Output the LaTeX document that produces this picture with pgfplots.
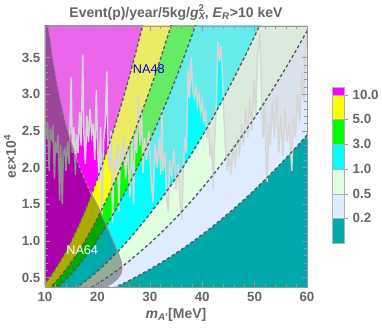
\documentclass[border=0pt]{standalone}
\usepackage{fontspec}
\setmainfont{Liberation Sans}
\usepackage{pgfplots}
\usepackage{pgfplotstable}
\pgfplotsset{compat=1.18}

\definecolor{cMag}{RGB}{255,0,255}
\definecolor{cYel}{RGB}{255,255,0}
\definecolor{cGrn}{RGB}{0,255,0}
\definecolor{cCya}{RGB}{0,255,255}
\definecolor{cLgr}{RGB}{224,255,224}
\definecolor{cLbl}{RGB}{221,236,255}
\definecolor{cTea}{RGB}{0,170,170}
\definecolor{frm}{gray}{0.6}
\definecolor{lab}{gray}{0.4}

% background (everything below the 0.2 contour)
\pgfplotstableread{
x y
8 0.2
62 0.2
62 4.5
8 4.5
}\cbg

% contours: curve points, then corners outside the axis
\pgfplotstableread{
x y
9 0.335
10 0.420
11 0.514
12 0.620
13 0.735
14 0.862
15 1.001
16 1.147
17 1.306
18 1.476
19 1.656
20 1.849
21 2.052
22 2.266
23 2.488
24 2.721
25 2.964
26 3.218
27 3.483
28 3.760
29 4.034
30 4.317
8 4.5
8 0.2
}\cten

\pgfplotstableread{
x y
9 0.237
10 0.297
11 0.363
12 0.438
13 0.520
14 0.610
15 0.708
16 0.811
17 0.923
18 1.044
19 1.171
20 1.307
21 1.451
22 1.602
23 1.759
24 1.924
25 2.096
26 2.275
27 2.463
28 2.659
30 3.053
32 3.473
34 3.921
36 4.395
8 4.5
8 0.2
}\cfive

\pgfplotstableread{
x y
10 0.230
11 0.282
12 0.340
13 0.403
14 0.472
15 0.548
16 0.628
17 0.715
18 0.808
19 0.907
20 1.013
21 1.124
22 1.241
23 1.363
24 1.490
25 1.623
26 1.763
27 1.908
28 2.059
30 2.364
32 2.690
34 3.037
36 3.405
38 3.793
40 4.204
8 4.5
8 0.2
}\cthree

\pgfplotstableread{
x y
13 0.232
14 0.273
15 0.317
16 0.363
17 0.413
18 0.467
19 0.524
20 0.585
22 0.717
24 0.860
26 1.018
28 1.189
30 1.365
32 1.553
34 1.753
36 1.966
38 2.190
40 2.427
42 2.675
44 2.936
46 3.209
48 3.494
50 3.791
52 4.101
8 4.5
8 0.2
}\cone

\pgfplotstableread{
x y
16 0.256
17 0.292
18 0.330
19 0.370
20 0.413
22 0.507
24 0.608
26 0.720
28 0.841
30 0.965
32 1.098
34 1.240
36 1.390
38 1.549
40 1.716
42 1.892
44 2.076
46 2.269
48 2.471
50 2.681
52 2.900
54 3.128
56 3.363
58 3.607
60 3.862
62 4.123
8 4.5
8 0.2
}\chalf

\pgfplotstableread{
x y
20 0.261
22 0.320
24 0.385
26 0.455
28 0.532
30 0.610
32 0.694
34 0.784
36 0.879
38 0.979
40 1.085
42 1.196
44 1.313
46 1.435
48 1.562
50 1.695
52 1.834
54 1.978
56 2.127
58 2.281
60 2.442
62 2.607
62 4.5
8 4.5
8 0.2
}\ctwo

% NA48 limit (excluded above)
\pgfplotstableread{
x y
9.6 2.50
10.0 2.55
10.3 2.45
10.5 2.62
10.8 1.95
11.0 2.50
11.3 2.40
11.5 2.58
11.8 1.85
12.0 2.35
12.3 2.20
12.5 2.45
12.8 1.55
13.0 2.30
13.3 1.50
13.5 2.20
13.8 2.25
14.0 1.95
14.3 2.35
14.6 2.05
15.0 3.23
15.2 2.20
15.5 2.55
15.8 1.90
16.0 2.45
16.3 2.20
16.6 2.75
16.9 2.30
17.2 3.54
17.4 2.50
17.7 2.05
18.0 2.70
18.3 2.35
18.6 2.80
18.9 2.45
19.2 2.60
19.5 2.10
19.8 3.06
20.0 2.40
20.3 1.80
20.6 2.55
20.9 1.33
21.2 2.35
21.5 2.60
21.8 3.31
22.0 2.30
22.3 1.95
22.6 2.50
22.9 1.25
23.2 2.10
23.5 1.97
23.8 2.30
24.1 1.40
24.4 2.25
24.7 2.05
25.0 2.40
25.4 1.85
25.8 2.30
26.2 1.60
26.6 2.40
26.9 1.50
27.2 2.50
27.5 2.20
27.8 2.97
28.1 2.30
28.4 2.83
28.7 1.93
29.0 2.40
29.4 2.10
29.8 2.50
30.2 1.90
30.6 1.52
31.0 2.30
31.4 2.00
31.8 2.40
32.1 1.90
32.3 2.79
32.5 1.95
32.9 2.20
33.2 1.60
33.5 1.40
33.8 2.10
34.2 1.85
34.6 2.25
35.0 1.70
35.4 2.05
35.8 1.50
36.1 1.29
36.4 2.00
36.7 2.40
37.0 2.20
37.3 3.34
37.6 2.95
37.9 3.50
38.2 3.05
38.5 2.95
38.8 3.10
39.1 2.85
39.4 3.00
39.7 2.75
40.0 2.90
40.3 2.60
40.6 2.80
40.9 2.40
41.2 2.55
41.5 2.15
41.8 2.35
42.1 1.70
42.4 2.40
42.7 2.90
43.0 3.72
43.3 3.45
43.6 3.65
43.9 3.20
44.2 2.60
44.5 2.20
44.8 1.95
45.1 2.15
45.5 1.90
45.9 2.30
46.3 2.00
46.7 2.45
47.1 2.15
47.5 2.60
47.9 2.30
48.3 2.80
48.7 2.40
49.1 2.95
49.5 2.50
49.9 3.20
50.2 2.70
50.6 3.55
51.0 3.84
51.3 3.00
51.6 2.40
51.9 2.90
52.2 2.10
52.4 1.80
52.7 2.60
53.0 2.30
53.4 2.90
53.8 2.40
54.2 3.00
54.6 2.20
55.0 2.70
55.4 2.15
55.8 2.80
56.2 2.35
56.6 2.60
57.1 1.95
57.4 2.70
57.8 2.40
58.2 3.00
58.6 2.60
59.0 3.30
59.4 2.90
59.7 3.60
60.0 3.84
61 4.5
9 4.5
}\nafe

% NA64 limit (excluded to the left)
\pgfplotstableread{
x y
9.5 4.5
10.3 4.1
10.6 3.92
11.5 3.47
12.5 3.06
13.5 2.73
14.5 2.45
15.5 2.22
16.5 2.02
17.5 1.85
18.6 1.67
19.5 1.55
20.5 1.41
21.5 1.25
22.5 1.08
23.3 0.95
24.0 0.83
24.5 0.72
24.7 0.63
24.5 0.55
23.8 0.48
22.8 0.42
21.5 0.37
20 0.3
8 0.3
8 4.5
}\nasf

\begin{document}
\begin{tikzpicture}
\path[use as bounding box] (-33.75pt,-30.75pt) rectangle (252.75pt,215.25pt);

\begin{axis}[
    at={(0,0)}, anchor=south west,
    scale only axis, width=196.5pt, height=195.75pt,
    xmin=10, xmax=60, ymin=0.37, ymax=3.93,
    xtick={10,20,...,60}, minor x tick num=4,
    ytick={0.5,1.0,1.5,2.0,2.5,3.0,3.5}, minor y tick num=4,
    tick pos=both, ticklabel pos=left, tick align=inside,
    major tick length=3.5pt, minor tick length=2pt,
    axis line style={frm}, tick style={frm},
    axis on top, no markers, unbounded coords=jump,
    /pgf/number format/assume math mode=true,
    tick label style={font=\fontsize{10}{12}\selectfont\bfseries, text=lab},
    yticklabel style={/pgf/number format/.cd, fixed, fixed zerofill, precision=1},
    title={Event(p)/year/5kg/\textit{g}\rlap{\textsubscript{\textit{X}}}\textsuperscript{2}, \textit{E}\textsubscript{\textit{R}}>10 keV},
    title style={at={(0.5,1)}, anchor=base, yshift=0.7pt, font=\fontsize{10.5}{12}\selectfont\bfseries, text=lab},
    xlabel={\textit{m}\textsubscript{\textit{A'}}[MeV]},
    xlabel style={at={(0.5,-0.107)}, anchor=center, font=\fontsize{10.5}{12}\selectfont\bfseries, text=lab},
    ylabel={eε×10\textsuperscript{4}},
    ylabel style={at={(-0.134,0.5)}, anchor=center, font=\fontsize{10.5}{12}\selectfont\bfseries, text=lab},
    cline/.style={black!65, line width=1pt, dash pattern=on 2.4pt off 1.8pt},
]
% filled bands
\addplot[draw=none, fill=cTea] table {\cbg} -- cycle;
\addplot[draw=none, fill=cLbl] table {\ctwo} -- cycle;
\addplot[draw=none, fill=cLgr] table {\chalf} -- cycle;
\addplot[draw=none, fill=cCya] table {\cone} -- cycle;
\addplot[draw=none, fill=cGrn] table {\cthree} -- cycle;
\addplot[draw=none, fill=cYel] table {\cfive} -- cycle;
\addplot[draw=none, fill=cMag] table {\cten} -- cycle;

% NA48 excluded region
\addplot[draw=none, fill=black!16, fill opacity=0.48] table {\nafe} -- cycle;
\addplot[black!16, line width=1.1pt] table {\nafe};

% NA64 excluded region
\addplot[draw=none, fill=black, fill opacity=0.33] table {\nasf} -- cycle;

% contour lines
\addplot[cline] table {\ctwo};
\addplot[cline] table {\chalf};
\addplot[cline] table {\cone};
\addplot[cline] table {\cthree};
\addplot[cline] table {\cfive};
\addplot[cline] table {\cten};

% NA64 boundary
\addplot[black!45, line width=0.9pt, dash pattern=on 2.4pt off 1.8pt, restrict y to domain=1.6:10] table {\nasf};
\addplot[black!40, line width=0.8pt, restrict y to domain=0:1.7] table {\nasf};

\node[text=blue!85!black, font=\fontsize{9.5}{11}\selectfont] at (axis cs:29.8,3.34) {NA48};
\node[text=white, font=\fontsize{9.5}{11}\selectfont] at (axis cs:17.1,0.87) {NA64};
\end{axis}

% colour bar
\begin{axis}[
    at={(215.25pt,33pt)}, anchor=south west,
    scale only axis, width=9pt, height=117pt,
    xmin=0, xmax=1, ymin=0, ymax=156,
    axis line style={draw=none}, xtick=\empty,
    ytick={25,49,74,99,124,148},
    yticklabels={0.2,0.5,1.0,3.0,5.0,10.0},
    ytick pos=right, yticklabel pos=right, tick align=outside,
    major tick length=3pt, tick style={frm},
    yticklabel style={font=\fontsize{10}{12}\selectfont\bfseries, text=lab},
    no markers, clip=false,
]
\addplot[fill=cTea, draw=black!30] coordinates {(0,0)(1,0)(1,25)(0,25)} -- cycle;
\addplot[fill=cLbl, draw=black!30] coordinates {(0,25)(1,25)(1,49)(0,49)} -- cycle;
\addplot[fill=cLgr, draw=black!30] coordinates {(0,49)(1,49)(1,74)(0,74)} -- cycle;
\addplot[fill=cCya, draw=black!30] coordinates {(0,74)(1,74)(1,99)(0,99)} -- cycle;
\addplot[fill=cGrn, draw=black!30] coordinates {(0,99)(1,99)(1,124)(0,124)} -- cycle;
\addplot[fill=cYel, draw=black!30] coordinates {(0,124)(1,124)(1,148)(0,148)} -- cycle;
\addplot[fill=cMag, draw=black!30] coordinates {(0,148)(1,148)(1,156)(0,156)} -- cycle;
\end{axis}
\end{tikzpicture}
\end{document}
